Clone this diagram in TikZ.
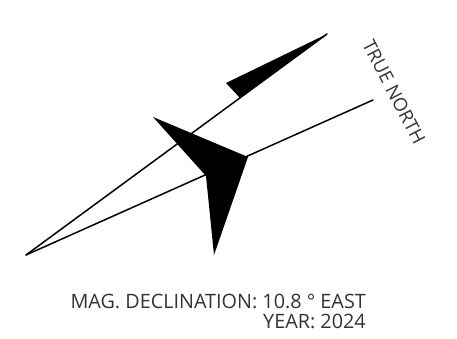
\documentclass[tikz,border=0pt]{standalone}
\usepackage{fontspec}
\setmainfont{Open Sans}
\tikzset{
  needle/.style={draw=black,line width=1.5pt,line cap=round},
  wedge/.style={fill=black,draw=none},
  lbl/.style={inner sep=0pt,text=black!80,font=\fontsize{19.8}{21}\selectfont}
}
\begin{document}
\begin{tikzpicture}[x=1pt,y=-1pt]
\useasboundingbox (0,0) rectangle (457,339);
\coordinate (base) at (26,255);
\coordinate (magtip) at (327,34);
\coordinate (truetip) at (373,100);
\draw[needle] (base) -- (magtip);
\draw[needle] (base) -- (truetip);
\fill[wedge] (327,34) -- (226,83) -- (240,98) -- cycle;
\fill[wedge] (153,117) -- (248,157) -- (214,255) -- (206,176) -- cycle;
\node[lbl,rotate=-62.6,anchor=center,font=\fontsize{18.6}{21}\selectfont] (tn) at (394,92) {TRUE NORTH};
\node[lbl,anchor=base east] (decl) at (366,308) {MAG. DECLINATION: 10.8 ° EAST};
\node[lbl,anchor=base east] (year) at (366,328) {YEAR: 2024};
\end{tikzpicture}
\end{document}
